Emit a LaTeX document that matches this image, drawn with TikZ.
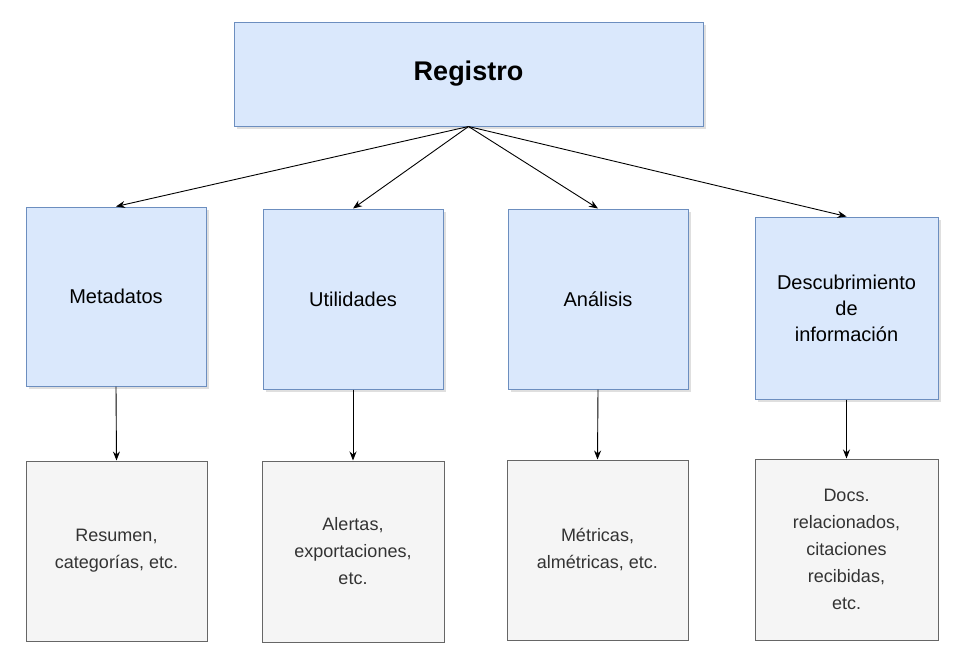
\documentclass[tikz,border=0pt]{standalone}
\usepackage{fontspec}
\setmainfont{Liberation Sans}
\usetikzlibrary{shadows,arrows.meta}
\definecolor{bfill}{HTML}{DAE8FC}
\definecolor{bline}{HTML}{6C8EBF}
\definecolor{gfill}{HTML}{F5F5F5}
\definecolor{gline}{HTML}{666666}
\definecolor{gtext}{HTML}{333333}
\tikzset{
 blue/.style={draw=bline,fill=bfill,line width=1pt,drop shadow={shadow xshift=3pt,shadow yshift=-3pt,opacity=0.25},align=center,inner sep=0pt,font=\fontsize{20}{26}\selectfont},
 grey/.style={draw=gline,fill=gfill,line width=1pt,align=center,inner sep=0pt,text=gtext,font=\fontsize{18}{27}\selectfont},
 arr/.style={-{Stealth[length=9pt,width=7pt]},line width=0.9pt}
}
\begin{document}
\begin{tikzpicture}[x=1pt,y=-1pt]
\useasboundingbox (0,0) rectangle (967,664);
\node[blue,minimum width=469pt,minimum height=104pt,font=\fontsize{27}{32}\selectfont\bfseries] (reg) at (468.5,74) {Registro};
\node[blue,minimum width=180pt,minimum height=179pt] (m) at (116,296.5) {Metadatos};
\node[blue,minimum width=180pt,minimum height=180pt] (u) at (353,299) {Utilidades};
\node[blue,minimum width=180pt,minimum height=180pt] (a) at (598,299) {Análisis};
\node[blue,minimum width=183pt,minimum height=182pt] (d) at (846.5,308) {Descubrimiento\\de\\información};
\node[grey,minimum width=181pt,minimum height=180pt] (m2) at (116.5,551) {Resumen,\\categorías, etc.};
\node[grey,minimum width=182pt,minimum height=181pt] (u2) at (353,551.5) {Alertas,\\exportaciones,\\etc.};
\node[grey,minimum width=181pt,minimum height=180pt] (a2) at (597.5,550) {Métricas,\\almétricas, etc.};
\node[grey,minimum width=183pt,minimum height=181pt] (d2) at (846.5,549.5) {Docs.\\relacionados,\\citaciones\\recibidas,\\etc.};
\draw[arr] (reg.south) -- (m.north);
\draw[arr] (reg.south) -- (u.north);
\draw[arr] (reg.south) -- (a.north);
\draw[arr] (reg.south) -- (d.north);
\draw[arr] (m.south) -- (m2.north);
\draw[arr] (u.south) -- (u2.north);
\draw[arr] (a.south) -- (a2.north);
\draw[arr] (d.south) -- (d2.north);
\end{tikzpicture}
\end{document}
